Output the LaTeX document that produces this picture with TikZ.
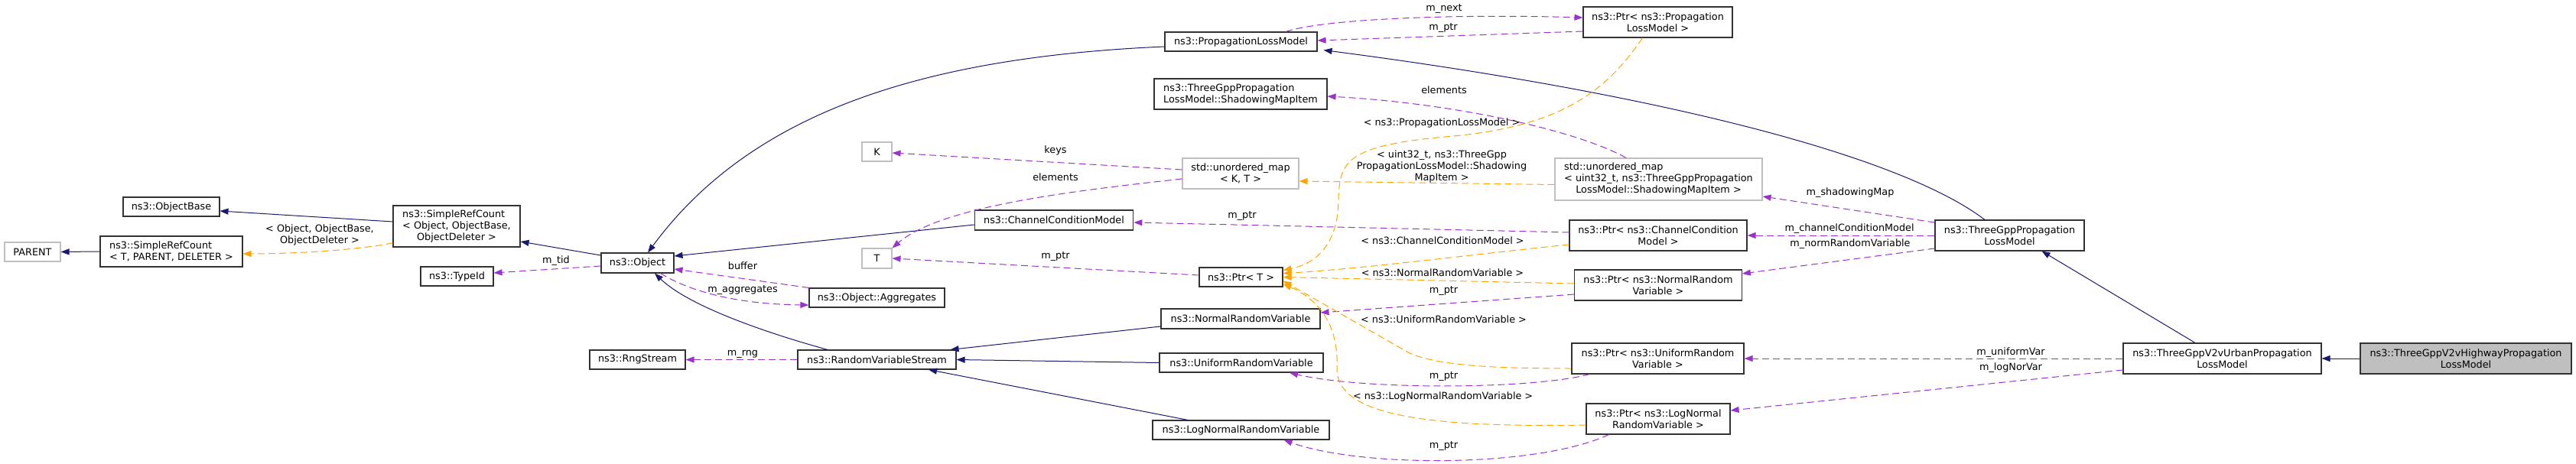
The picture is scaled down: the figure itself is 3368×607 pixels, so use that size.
\documentclass[tikz,border=0pt]{standalone}
\usepackage{fontspec}
\setmainfont{DejaVu Sans}
\usetikzlibrary{arrows.meta,calc}
\definecolor{navy}{RGB}{25,25,112}
\definecolor{orchid}{RGB}{154,50,205}
\definecolor{orng}{RGB}{255,165,0}
\definecolor{lgray}{RGB}{191,191,191}
\definecolor{bord}{RGB}{50,50,50}
\begin{document}
\begin{tikzpicture}[x=1pt,y=-1pt,
  font=\fontsize{12.8}{15}\selectfont,
  sz/.style 2 args={minimum width=#1pt,minimum height=#2pt},
  box/.style={draw=bord, line width=1.1pt, inner sep=0pt, fill=white, align=center},
  gbox/.style={draw=lgray, line width=1.1pt, inner sep=0pt, fill=white, align=center},
  tip/.style={-{Triangle[length=11pt,width=8pt]}},
  inh/.style={draw=navy, line width=1pt, tip, fill=none},
  use/.style={draw=orchid, line width=1pt, dash pattern=on 9pt off 5pt, tip},
  tmpl/.style={draw=orng, line width=1pt, dash pattern=on 9pt off 5pt, tip},
  lab/.style={inner sep=0pt, align=center}
]
\fill[white] (0,0) rectangle (3368,607);
\useasboundingbox (0,0) rectangle (3368,607);

% nodes
\node[gbox, sz={73}{25}] (parent) at (42.5,329.5) {PARENT};
\node[box, sz={186}{40}, align=left] (srcT) at (224,329) {ns3::SimpleRefCount\\< T, PARENT, DELETER >};
\node[box, sz={126}{25}] (objbase) at (224,270.5) {ns3::ObjectBase};
\node[box, sz={166}{54}] (srcO) at (597,296) {\begin{tabular}{@{}l@{}}ns3::SimpleRefCount\\< Object, ObjectBase,\\\multicolumn{1}{@{}c@{}}{ObjectDeleter >}\end{tabular}};
\node[box, sz={95}{25}] (typeid) at (597.5,361.5) {ns3::TypeId};
\node[box, sz={95}{26}] (object) at (833.5,344) {ns3::Object};
\node[box, sz={125}{25}] (rng) at (833.5,470.5) {ns3::RngStream};
\node[gbox, sz={39}{25}] (K) at (1146.5,198.5) {K};
\node[gbox, sz={39}{26}] (T) at (1146.5,338) {T};
\node[box, sz={177}{25}] (aggr) at (1146.5,389.5) {ns3::Object::Aggregates};
\node[box, sz={207}{25}] (rvs) at (1146.5,470.5) {ns3::RandomVariableStream};
\node[gbox, sz={152}{40}] (umapKT) at (1622,227) {std::unordered\_map\\< K, T >};
\node[box, sz={207.5}{26}] (ccm) at (1378,288) {ns3::ChannelConditionModel};
\node[box, sz={109}{25}] (ptrT) at (1622.5,362.5) {ns3::Ptr< T >};
\node[box, sz={208}{26}] (normal) at (1622,417) {ns3::NormalRandomVariable};
\node[box, sz={214}{25}] (uniform) at (1623,474.5) {ns3::UniformRandomVariable};
\node[box, sz={231}{25}] (lognormal) at (1622.5,562.5) {ns3::LogNormalRandomVariable};
\node[box, sz={199}{25}] (plm) at (1622.5,54.5) {ns3::PropagationLossModel};
\node[box, sz={226}{40}, align=left] (smi) at (1622,123) {ns3::ThreeGppPropagation\\LossModel::ShadowingMapItem};
\node[box, sz={195}{40}] (ptrplm) at (2167.5,29) {ns3::Ptr< ns3::Propagation\\LossModel >};
\node[gbox, sz={271}{55}] (umapU) at (2168.5,234.5) {\begin{tabular}{@{}l@{}}std::unordered\_map\\< uint32\_t, ns3::ThreeGppPropagation\\\multicolumn{1}{@{}c@{}}{LossModel::ShadowingMapItem >}\end{tabular}};
\node[box, sz={232}{40}] (ptrcc) at (2168,308) {ns3::Ptr< ns3::ChannelCondition\\Model >};
\node[box, sz={218.5}{40}] (ptrnorm) at (2168,373) {ns3::Ptr< ns3::NormalRandom\\Variable >};
\node[box, sz={225}{40}] (ptruni) at (2167.5,469) {ns3::Ptr< ns3::UniformRandom\\Variable >};
\node[box, sz={188}{40}] (ptrlog) at (2168,548) {ns3::Ptr< ns3::LogNormal\\RandomVariable >};
\node[box, sz={195}{40}] (tgpp) at (2627.5,308) {ns3::ThreeGppPropagation\\LossModel};
\node[box, sz={259}{40}] (urban) at (2905.5,469) {ns3::ThreeGppV2vUrbanPropagation\\LossModel};
\node[box, sz={276}{40}, fill=lgray] (highway) at (3224,469) {ns3::ThreeGppV2vHighwayPropagation\\LossModel};

% inheritance
\draw[inh] (srcT.west) -- (parent.east);
\draw[inh] ($(srcO.west)+(0,-6)$) -- ($(objbase.east)+(0,5.5)$);
\draw[inh] ($(object.west)+(0,-10)$) -- ($(srcO.east)+(0,20)$);
\draw[inh] ($(plm.west)+(0,6.5)$) .. controls (1200,75) and (980,150) .. ($(object.north)+(13.5,0)$);
\draw[inh] ($(ccm.west)+(0,6)$) -- ($(object.east)+(0,-9)$);
\draw[inh] ($(rvs.north)+(-64.5,0)$) .. controls (1000,435) and (900,400) .. ($(object.south)+(22.5,0)$);
\draw[inh] ($(normal.west)+(0,10)$) -- ($(rvs.north east)+(-8,0)$);
\draw[inh] (uniform.west) -- (rvs.east);
\draw[inh] ($(lognormal.north)+(-69.5,0)$) -- ($(rvs.south)+(67.5,0)$);
\draw[inh] ($(tgpp.north)+(-32.5,0)$) .. controls (2480,200) and (2150,120) .. ($(plm.south east)+(8,-2)$);
\draw[inh] ($(urban.north)+(-35.5,0)$) -- ($(tgpp.south)+(42,0)$);
\draw[inh] (highway.west) -- (urban.east);

% usage
\draw[use] ($(object.west)+(0,4)$) -- ($(typeid.east)+(0,-4.5)$);
\draw[use] (aggr.north west) -- ($(object.east)+(0,8)$);
\draw[use] ($(object.south)+(30,0)$) .. controls (900,380) and (960,398) .. ($(aggr.west)+(0,9.5)$);
\draw[use] (rvs.west) -- (rng.east);
\draw[use] ($(umapKT.west)+(0,-5)$) -- ($(K.east)+(0,1.5)$);
\draw[use] ($(umapKT.west)+(0,7)$) .. controls (1400,250) and (1230,270) .. (T.north east);
\draw[use] ($(ptrcc.west)+(0,-4)$) -- ($(ccm.east)+(0,3)$);
\draw[use] ($(ptrT.west)+(0,-2.5)$) -- (T.east);
\draw[use] ($(ptrplm.west)+(0,12)$) -- ($(plm.east)+(0,-1.5)$);
\draw[use] ($(plm.north)+(58.5,0)$) .. controls (1730,25) and (1900,18) .. ($(ptrplm.west)+(0,-6)$);
\draw[use] ($(umapU.north)+(-42.5,0)$) .. controls (2060,170) and (1900,135) .. ($(smi.east)+(0,3)$);
\draw[use] ($(tgpp.west)+(0,-17)$) -- ($(umapU.east)+(0,22.5)$);
\draw[use] (tgpp.west) -- (ptrcc.east);
\draw[use] ($(tgpp.west)+(0,17)$) -- ($(ptrnorm.east)+(0,-15)$);
\draw[use] ($(ptrnorm.west)+(0,12)$) -- ($(normal.east)+(0,-8)$);
\draw[use] (urban.west) -- (ptruni.east);
\draw[use] ($(urban.west)+(0,15)$) -- ($(ptrlog.east)+(0,-11)$);
\draw[use] ($(ptruni.south west)+(24,0)$) .. controls (2000,510) and (1780,510) .. ($(uniform.south)+(63,0)$);
\draw[use] ($(ptrlog.south west)+(30,0)$) .. controls (2010,612) and (1780,612) .. ($(lognormal.south)+(56,0)$);

% template instances
\draw[tmpl] ($(srcO.west)+(0,22)$) .. controls (460,328) and (380,332) .. ($(srcT.east)+(0,3)$);
\draw[tmpl] ($(umapU.west)+(0,7)$) -- ($(umapKT.east)+(0,10)$);
\draw[tmpl] ($(ptrplm.south)+(-20,0)$) .. controls (2100,120) and (2040,165) .. (1900,178) .. controls (1760,190) and (1752,210) .. (1750,260) .. controls (1750,320) and (1720,345) .. ($(ptrT.east)+(0,-9)$);
\draw[tmpl] ($(ptrcc.west)+(0,12)$) .. controls (1950,330) and (1780,352) .. ($(ptrT.east)+(0,-5)$);
\draw[tmpl] ($(ptrnorm.west)+(0,-2)$) -- (ptrT.east);
\draw[tmpl] ($(ptruni.west)+(0,13)$) .. controls (1950,482) and (1880,478) .. (1843,462) -- ($(ptrT.east)+(0,5)$);
\draw[tmpl] ($(ptrlog.west)+(0,8)$) .. controls (1850,560) and (1745,540) .. (1748,480) .. controls (1750,420) and (1720,390) .. ($(ptrT.east)+(0,9)$);

% labels
\node[lab] (lobj) at (418,307) {< Object, ObjectBase,\\ObjectDeleter >};
\node[lab] (ltid) at (727,341) {m\_tid};
\node[lab] (lbuf) at (971,348) {buffer};
\node[lab] (lagg) at (971,380) {m\_aggregates};
\node[lab] (lrng) at (971,463) {m\_rng};
\node[lab] (lkeys) at (1380,197) {keys};
\node[lab] (lelem) at (1380,232) {elements};
\node[lab] (lptrcc) at (1624,283) {m\_ptr};
\node[lab] (lptrT) at (1380,336) {m\_ptr};
\node[lab] (lnext) at (1888,12) {m\_next};
\node[lab] (lptrplm) at (1887,37) {m\_ptr};
\node[lab] (lelem2) at (1888,118) {elements};
\node[lab] (ltplm) at (1885,161) {< ns3::PropagationLossModel >};
\node[lab] (ltumap) at (1885,218) {< uint32\_t, ns3::ThreeGpp\\PropagationLossModel::Shadowing\\MapItem >};
\node[lab] (ltcc) at (1886,315) {< ns3::ChannelConditionModel >};
\node[lab] (ltnorm) at (1886,357) {< ns3::NormalRandomVariable >};
\node[lab] (lptrnorm) at (1887.5,381) {m\_ptr};
\node[lab] (ltuni) at (1887.5,418) {< ns3::UniformRandomVariable >};
\node[lab] (lptruni) at (1887.5,493) {m\_ptr};
\node[lab] (ltlog) at (1886.6,519) {< ns3::LogNormalRandomVariable >};
\node[lab] (lptrlog) at (1887.5,584) {m\_ptr};
\node[lab] (lsh) at (2419,252) {m\_shadowingMap};
\node[lab] (lccm) at (2418,299) {m\_channelConditionModel};
\node[lab] (lnrv) at (2419,319) {m\_normRandomVariable};
\node[lab] (luni) at (2629,461) {m\_uniformVar};
\node[lab] (llog) at (2629,481) {m\_logNorVar};
\end{tikzpicture}
\end{document}
